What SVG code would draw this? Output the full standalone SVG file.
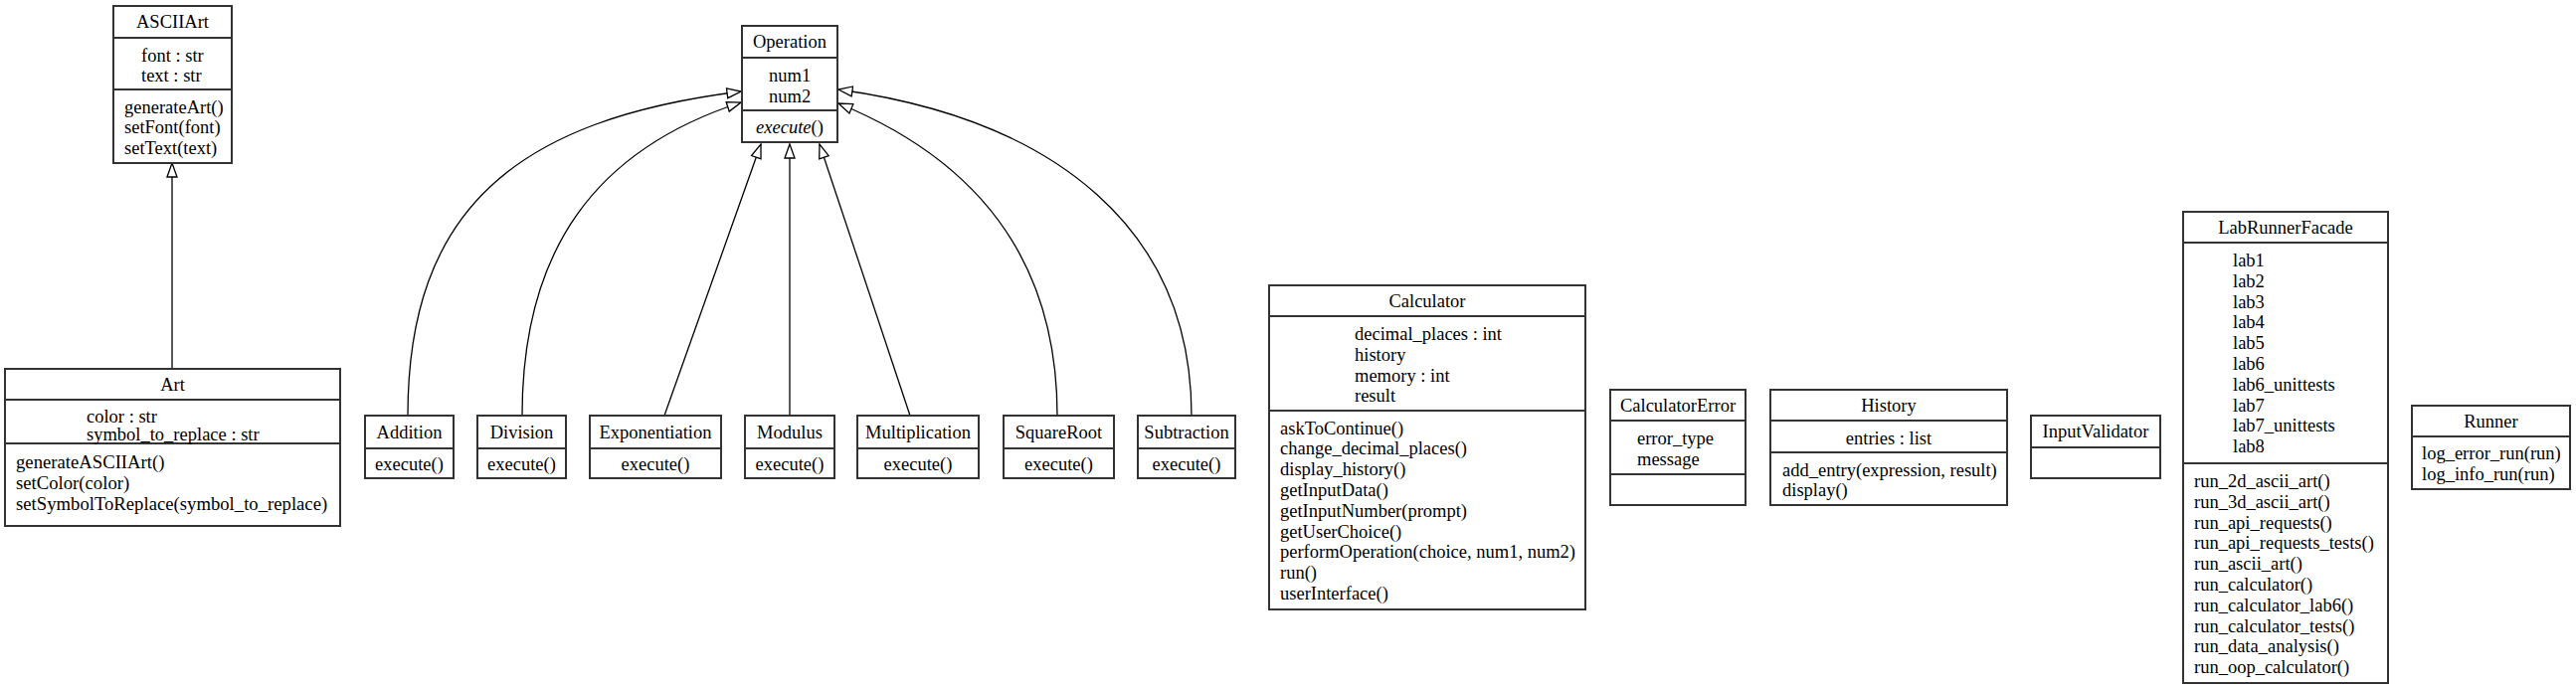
<svg xmlns="http://www.w3.org/2000/svg" width="2590" height="692" viewBox="0 0 2590 692">
<defs>
<style>
.box{fill:#fff;stroke:#333;stroke-width:2}
.div{stroke:#333;stroke-width:2}
text{font-family:"Liberation Serif","Times New Roman",serif;font-size:18.5px;fill:#000}
.c{text-anchor:middle}
.edge{fill:none;stroke:#000;stroke-width:1.3}
</style>
<marker id="tri" markerUnits="userSpaceOnUse" markerWidth="18" markerHeight="14" refX="15" refY="7" orient="auto">
<path d="M1,2 L15,7 L1,12 z" fill="#fff" stroke="#000" stroke-width="1.3"/>
</marker>
</defs>
<rect width="2590" height="692" fill="#fff"/>

<g id="connectors">
<path class="edge" d="M173,371 L173,164" marker-end="url(#tri)"/>
<path class="edge" d="M410,418 C410,210 520,120 745,92" marker-end="url(#tri)"/>
<path class="edge" d="M525,418 C525,250 600,150 745,103" marker-end="url(#tri)"/>
<path class="edge" d="M668,418 L765,145" marker-end="url(#tri)"/>
<path class="edge" d="M794,418 L794,145" marker-end="url(#tri)"/>
<path class="edge" d="M915,418 L824,145" marker-end="url(#tri)"/>
<path class="edge" d="M1063,418 C1063,260 980,160 843,104" marker-end="url(#tri)"/>
<path class="edge" d="M1198,418 C1198,230 1060,120 843,90" marker-end="url(#tri)"/>
</g>

<g id="ASCIIArt">
<rect class="box" x="114" y="6" width="119" height="158"/>
<line class="div" x1="114" y1="38" x2="233" y2="38"/>
<line class="div" x1="114" y1="90" x2="233" y2="90"/>
<text class="c" x="173.5" y="28">ASCIIArt</text>
<text x="142" y="62">font : str</text>
<text x="142" y="82">text : str</text>
<text x="125" y="113.5">generateArt()</text>
<text x="125" y="134">setFont(font)</text>
<text x="125" y="154.5">setText(text)</text>
</g>

<g id="Art">
<rect class="box" x="5" y="371" width="337" height="158"/>
<line class="div" x1="5" y1="402" x2="342" y2="402"/>
<line class="div" x1="5" y1="446" x2="342" y2="446"/>
<text class="c" x="173.5" y="393">Art</text>
<text x="87" y="425">color : str</text>
<text x="87" y="443">symbol_to_replace : str</text>
<text x="16" y="471" style="font-size:18.7px">generateASCIIArt()</text>
<text x="16" y="492" style="font-size:18.7px">setColor(color)</text>
<text x="16" y="513" style="font-size:18.7px">setSymbolToReplace(symbol_to_replace)</text>
</g>

<g id="Operation">
<rect class="box" x="746" y="26" width="96" height="117"/>
<line class="div" x1="746" y1="58" x2="842" y2="58"/>
<line class="div" x1="746" y1="111" x2="842" y2="111"/>
<text class="c" x="794" y="48">Operation</text>
<text x="773" y="82">num1</text>
<text x="773" y="102.5">num2</text>
<text class="c" x="794" y="134"><tspan font-style="italic">execute</tspan>()</text>
</g>

<g id="Addition">
<rect class="box" x="367" y="418" width="89" height="63"/>
<line class="div" x1="367" y1="451" x2="456" y2="451"/>
<text class="c" x="411.5" y="440.5">Addition</text>
<text class="c" x="411.5" y="472.5">execute()</text>
</g>
<g id="Division">
<rect class="box" x="480" y="418" width="89" height="63"/>
<line class="div" x1="480" y1="451" x2="569" y2="451"/>
<text class="c" x="524.5" y="440.5">Division</text>
<text class="c" x="524.5" y="472.5">execute()</text>
</g>
<g id="Exponentiation">
<rect class="box" x="593" y="418" width="132" height="63"/>
<line class="div" x1="593" y1="451" x2="725" y2="451"/>
<text class="c" x="659" y="440.5">Exponentiation</text>
<text class="c" x="659" y="472.5">execute()</text>
</g>
<g id="Modulus">
<rect class="box" x="749" y="418" width="90" height="63"/>
<line class="div" x1="749" y1="451" x2="839" y2="451"/>
<text class="c" x="794" y="440.5">Modulus</text>
<text class="c" x="794" y="472.5">execute()</text>
</g>
<g id="Multiplication">
<rect class="box" x="862" y="418" width="122" height="63"/>
<line class="div" x1="862" y1="451" x2="984" y2="451"/>
<text class="c" x="923" y="440.5">Multiplication</text>
<text class="c" x="923" y="472.5">execute()</text>
</g>
<g id="SquareRoot">
<rect class="box" x="1009" y="418" width="111" height="63"/>
<line class="div" x1="1009" y1="451" x2="1120" y2="451"/>
<text class="c" x="1064.5" y="440.5">SquareRoot</text>
<text class="c" x="1064.5" y="472.5">execute()</text>
</g>
<g id="Subtraction">
<rect class="box" x="1144" y="418" width="98" height="63"/>
<line class="div" x1="1144" y1="451" x2="1242" y2="451"/>
<text class="c" x="1193" y="440.5">Subtraction</text>
<text class="c" x="1193" y="472.5">execute()</text>
</g>

<g id="Calculator">
<rect class="box" x="1276" y="287" width="318" height="326"/>
<line class="div" x1="1276" y1="318" x2="1594" y2="318"/>
<line class="div" x1="1276" y1="413" x2="1594" y2="413"/>
<text class="c" x="1435" y="309">Calculator</text>
<text x="1362" y="342">decimal_places : int</text>
<text x="1362" y="362.8">history</text>
<text x="1362" y="383.6">memory : int</text>
<text x="1362" y="404.4">result</text>
<text x="1287" y="436.5">askToContinue()</text>
<text x="1287" y="457.3">change_decimal_places()</text>
<text x="1287" y="478.1">display_history()</text>
<text x="1287" y="498.9">getInputData()</text>
<text x="1287" y="519.7">getInputNumber(prompt)</text>
<text x="1287" y="540.5">getUserChoice()</text>
<text x="1287" y="561.3">performOperation(choice, num1, num2)</text>
<text x="1287" y="582.1">run()</text>
<text x="1287" y="602.9">userInterface()</text>
</g>

<g id="CalculatorError">
<rect class="box" x="1619" y="392" width="136" height="116"/>
<line class="div" x1="1619" y1="423" x2="1755" y2="423"/>
<line class="div" x1="1619" y1="477" x2="1755" y2="477"/>
<text class="c" x="1687" y="414">CalculatorError</text>
<text x="1646" y="447">error_type</text>
<text x="1646" y="467.7">message</text>
</g>

<g id="History">
<rect class="box" x="1780" y="392" width="238" height="116"/>
<line class="div" x1="1780" y1="423" x2="2018" y2="423"/>
<line class="div" x1="1780" y1="455" x2="2018" y2="455"/>
<text class="c" x="1899" y="414">History</text>
<text class="c" x="1899" y="447">entries : list</text>
<text x="1792" y="478.5">add_entry(expression, result)</text>
<text x="1792" y="499.3">display()</text>
</g>

<g id="InputValidator">
<rect class="box" x="2042" y="418" width="130" height="63"/>
<line class="div" x1="2042" y1="450" x2="2172" y2="450"/>
<text class="c" x="2107" y="440">InputValidator</text>
</g>

<g id="LabRunnerFacade">
<rect class="box" x="2195" y="213" width="206" height="474"/>
<line class="div" x1="2195" y1="244" x2="2401" y2="244"/>
<line class="div" x1="2195" y1="466" x2="2401" y2="466"/>
<text class="c" x="2298" y="235">LabRunnerFacade</text>
<text x="2245" y="268">lab1</text>
<text x="2245" y="288.8">lab2</text>
<text x="2245" y="309.6">lab3</text>
<text x="2245" y="330.4">lab4</text>
<text x="2245" y="351.2">lab5</text>
<text x="2245" y="372">lab6</text>
<text x="2245" y="392.8">lab6_unittests</text>
<text x="2245" y="413.6">lab7</text>
<text x="2245" y="434.4">lab7_unittests</text>
<text x="2245" y="455.2">lab8</text>
<text x="2206" y="490">run_2d_ascii_art()</text>
<text x="2206" y="510.8">run_3d_ascii_art()</text>
<text x="2206" y="531.6">run_api_requests()</text>
<text x="2206" y="552.4">run_api_requests_tests()</text>
<text x="2206" y="573.2">run_ascii_art()</text>
<text x="2206" y="594">run_calculator()</text>
<text x="2206" y="614.8">run_calculator_lab6()</text>
<text x="2206" y="635.6">run_calculator_tests()</text>
<text x="2206" y="656.4">run_data_analysis()</text>
<text x="2206" y="677.2">run_oop_calculator()</text>
</g>

<g id="Runner">
<rect class="box" x="2425" y="408" width="159" height="84"/>
<line class="div" x1="2425" y1="439" x2="2584" y2="439"/>
<text class="c" x="2504.5" y="430">Runner</text>
<text x="2435" y="462">log_error_run(run)</text>
<text x="2435" y="482.7">log_info_run(run)</text>
</g>
</svg>
